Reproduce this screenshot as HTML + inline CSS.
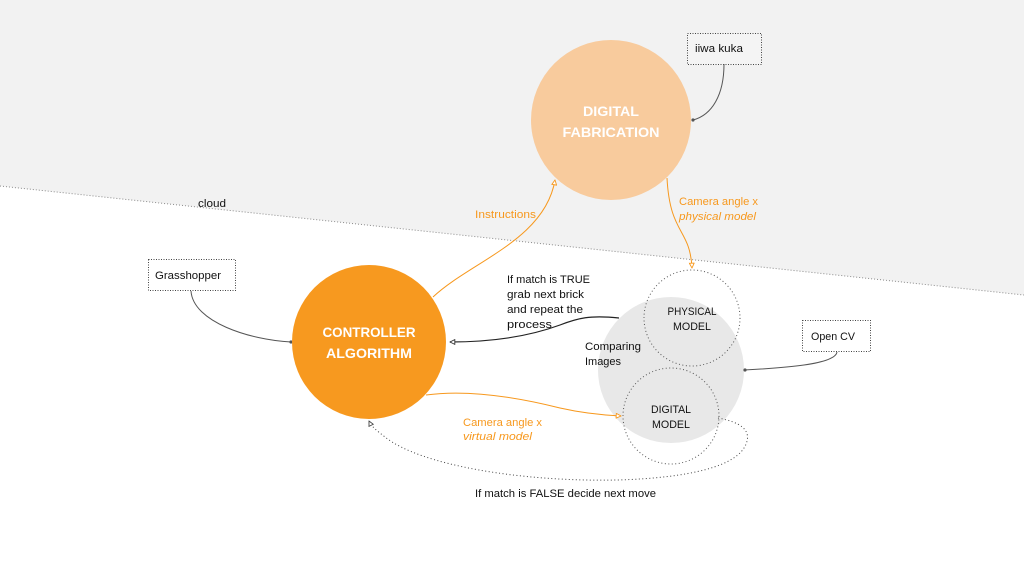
<!DOCTYPE html>
<html><head><meta charset="utf-8"><style>
html,body{margin:0;padding:0;background:#fff;}
svg{display:block;}
text{font-family:"Liberation Sans",sans-serif;}
</style></head><body>
<svg width="1024" height="576" viewBox="0 0 1024 576" xmlns="http://www.w3.org/2000/svg">
<defs>
<marker id="ao" viewBox="0 0 10 10" refX="9" refY="5" markerWidth="6" markerHeight="6" orient="auto" markerUnits="userSpaceOnUse"><path d="M1,1 L9,5 L1,9 Z" fill="#fff" stroke="#f7981d" stroke-width="1.5"/></marker>
<marker id="ak" viewBox="0 0 10 10" refX="9" refY="5" markerWidth="6" markerHeight="6" orient="auto" markerUnits="userSpaceOnUse"><path d="M1,1 L9,5 L1,9 Z" fill="#fff" stroke="#333" stroke-width="1.5"/></marker>
<marker id="ad" viewBox="0 0 10 10" refX="9" refY="5" markerWidth="6" markerHeight="6" orient="auto" markerUnits="userSpaceOnUse"><path d="M1,1 L9,5 L1,9 Z" fill="#fff" stroke="#444" stroke-width="1.5"/></marker>
<marker id="dot" viewBox="0 0 10 10" refX="5" refY="5" markerWidth="4" markerHeight="4" markerUnits="userSpaceOnUse"><circle cx="5" cy="5" r="4" fill="#555"/></marker>
</defs>
<polygon points="0,0 1024,0 1024,295 0,186" fill="#f2f2f2"/>
<line x1="0" y1="186" x2="1024" y2="295" stroke="#8a8a8a" stroke-width="1" stroke-dasharray="1,2"/>
<text x="198" y="207" font-size="11" textLength="28" lengthAdjust="spacingAndGlyphs" fill="#111">cloud</text>

<!-- Digital fabrication -->
<circle cx="611" cy="120" r="80" fill="#f8cb9d"/>
<text x="611" y="116" font-size="13.5" font-weight="bold" fill="#fff" text-anchor="middle" textLength="56" lengthAdjust="spacingAndGlyphs">DIGITAL</text>
<text x="611" y="137" font-size="13.5" font-weight="bold" fill="#fff" text-anchor="middle" textLength="97" lengthAdjust="spacingAndGlyphs">FABRICATION</text>

<!-- iiwa kuka -->
<rect x="687.5" y="33.5" width="74" height="31" fill="#f4f4f4" stroke="#444" stroke-width="1" stroke-dasharray="1,1.5"/>
<text x="695" y="52" font-size="11" fill="#111" textLength="48" lengthAdjust="spacingAndGlyphs">iiwa kuka</text>
<path d="M724,64 C724,95 712,115 693,120" fill="none" stroke="#555" stroke-width="1" marker-end="url(#dot)"/>

<!-- Comparing circle -->
<circle cx="671" cy="370" r="73" fill="#e8e8e8"/>
<circle cx="692" cy="318" r="48" fill="none" stroke="#555" stroke-width="1" stroke-dasharray="1,2.5"/>
<circle cx="671" cy="416" r="48" fill="none" stroke="#555" stroke-width="1" stroke-dasharray="1,2.5"/>
<text x="692" y="315" font-size="11" fill="#111" text-anchor="middle" textLength="49" lengthAdjust="spacingAndGlyphs">PHYSICAL</text>
<text x="692" y="330" font-size="11" fill="#111" text-anchor="middle" textLength="38" lengthAdjust="spacingAndGlyphs">MODEL</text>
<text x="671" y="413" font-size="11" fill="#111" text-anchor="middle" textLength="40" lengthAdjust="spacingAndGlyphs">DIGITAL</text>
<text x="671" y="428" font-size="11" fill="#111" text-anchor="middle" textLength="38" lengthAdjust="spacingAndGlyphs">MODEL</text>
<text x="585" y="350" font-size="11" fill="#111" textLength="56" lengthAdjust="spacingAndGlyphs">Comparing</text>
<text x="585" y="365" font-size="11" fill="#111" textLength="36" lengthAdjust="spacingAndGlyphs">Images</text>

<!-- Open CV -->
<rect x="802.5" y="320.5" width="68" height="31" fill="#fff" stroke="#444" stroke-width="1" stroke-dasharray="1,1.5"/>
<text x="811" y="340" font-size="11" fill="#111" textLength="44" lengthAdjust="spacingAndGlyphs">Open CV</text>
<path d="M837,352 C835,365 780,368 745,370" fill="none" stroke="#555" stroke-width="1" marker-end="url(#dot)"/>

<!-- Grasshopper -->
<rect x="148.5" y="259.5" width="87" height="31" fill="#fff" stroke="#444" stroke-width="1" stroke-dasharray="1,1.5"/>
<text x="155" y="279" font-size="11" fill="#111" textLength="66" lengthAdjust="spacingAndGlyphs">Grasshopper</text>
<path d="M191,291 C193,322 250,340 291,342" fill="none" stroke="#555" stroke-width="1" marker-end="url(#dot)"/>

<!-- Controller -->
<circle cx="369" cy="342" r="77" fill="#f7991f"/>
<text x="369" y="337" font-size="14" font-weight="bold" fill="#fff" text-anchor="middle" textLength="93" lengthAdjust="spacingAndGlyphs">CONTROLLER</text>
<text x="369" y="358" font-size="14" font-weight="bold" fill="#fff" text-anchor="middle" textLength="86" lengthAdjust="spacingAndGlyphs">ALGORITHM</text>

<!-- Instructions -->
<path d="M433,297 C470,262 545,240 555,180" fill="none" stroke="#f7981d" stroke-width="1" marker-end="url(#ao)"/>
<text x="475" y="218" font-size="11" fill="#f7981d" textLength="61" lengthAdjust="spacingAndGlyphs">Instructions</text>

<!-- Camera physical -->
<path d="M667,178 C670,235 690,228 692,268" fill="none" stroke="#f7981d" stroke-width="1" marker-end="url(#ao)"/>
<text x="679" y="205" font-size="11" fill="#f7981d" textLength="79" lengthAdjust="spacingAndGlyphs">Camera angle x</text>
<text x="679" y="220" font-size="11" font-style="italic" fill="#f7981d" textLength="77" lengthAdjust="spacingAndGlyphs">physical model</text>

<!-- TRUE -->
<path d="M619,318 C590,315 578,318 560,325 C530,336 495,342 450,342" fill="none" stroke="#222" stroke-width="1.2" marker-end="url(#ak)"/>
<text x="507" y="283" font-size="11" fill="#111" textLength="83" lengthAdjust="spacingAndGlyphs">If match is TRUE</text>
<text x="507" y="298" font-size="11" fill="#111" textLength="77" lengthAdjust="spacingAndGlyphs">grab next brick</text>
<text x="507" y="313" font-size="11" fill="#111" textLength="76" lengthAdjust="spacingAndGlyphs">and repeat the</text>
<text x="507" y="328" font-size="11" fill="#111" textLength="45" lengthAdjust="spacingAndGlyphs">process</text>

<!-- Camera virtual -->
<path d="M426,395 C470,389 520,398 560,408 C582,413 600,415 621,416" fill="none" stroke="#f7981d" stroke-width="1" marker-end="url(#ao)"/>
<text x="463" y="426" font-size="11" fill="#f7981d" textLength="79" lengthAdjust="spacingAndGlyphs">Camera angle x</text>
<text x="463" y="440" font-size="11" font-style="italic" fill="#f7981d" textLength="69" lengthAdjust="spacingAndGlyphs">virtual model</text>

<!-- FALSE -->
<path d="M718,418 C740,422 752,430 746,444 C738,466 690,478 617,480 C520,482 420,465 385,437 C376,430 372,427 369,421" fill="none" stroke="#444" stroke-width="1" stroke-dasharray="1,2.5" marker-end="url(#ad)"/>
<text x="475" y="497" font-size="11" fill="#111" textLength="181" lengthAdjust="spacingAndGlyphs">If match is FALSE decide next move</text>
</svg>
</body></html>
